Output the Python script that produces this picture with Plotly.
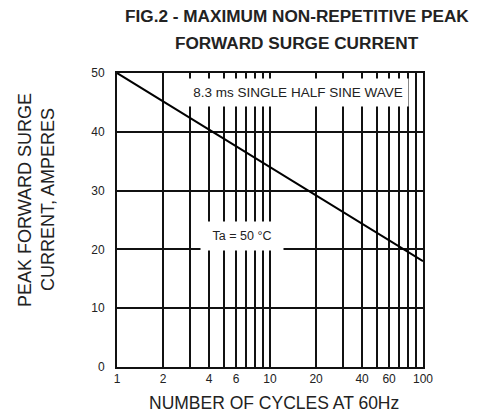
import plotly.graph_objects as go

# Data
cycles = [1, 10, 100]
current = [50, 34, 18]

x_tickvals = [1, 2, 3, 4, 5, 6, 7, 8, 9, 10, 20, 30, 40, 50, 60, 70, 80, 90, 100]
x_ticktext = ["1", "2", "", "4", "", "6", "", "", "", "10", "20", "", "40", "", "60", "", "", "", "100"]
y_tickvals = [0, 10, 20, 30, 40, 50]

title_line1 = "FIG.2 - MAXIMUM NON-REPETITIVE PEAK"
title_line2 = "FORWARD SURGE CURRENT"
ytitle_line1 = "PEAK FORWARD SURGE"
ytitle_line2 = "CURRENT, AMPERES"
xtitle = "NUMBER OF CYCLES AT 60Hz"
note_wave = "8.3 ms SINGLE HALF SINE WAVE"
note_temp = "Ta = 50 °C"

FONT = "Liberation Sans, Arial, sans-serif"
TXT = "#222222"

fig = go.Figure()
fig.add_trace(go.Scatter(x=cycles, y=current, mode="lines",
                         line=dict(color="black", width=2), showlegend=False,
                         hoverinfo="skip"))

fig.update_layout(
    width=493, height=419,
    margin=dict(l=117, r=70, t=73, b=52),
    paper_bgcolor="white", plot_bgcolor="white",
    font=dict(family=FONT, color=TXT),
    xaxis=dict(type="log", range=[0, 2], tickvals=x_tickvals, ticktext=x_ticktext,
               showgrid=True, gridcolor="#111", gridwidth=2, zeroline=False,
               showline=True, linecolor="#111", linewidth=2, mirror=True,
               ticks="", tickfont=dict(size=12, color=TXT)),
    yaxis=dict(range=[0, 50], tickvals=y_tickvals, showgrid=True,
               gridcolor="#111", gridwidth=2, zeroline=False,
               showline=True, linecolor="#111", linewidth=2, mirror=True,
               ticks="", ticklabelstandoff=8, tickfont=dict(size=12, color=TXT)),
)

ann = [
    dict(text="<b>" + title_line1 + "</b>", x=(297 - 117) / 306, y=(367 - 16) / 294, font=dict(size=17.2)),
    dict(text="<b>" + title_line2 + "</b>", x=(297 - 117) / 306, y=(367 - 43) / 294, font=dict(size=17.2)),
    dict(text=ytitle_line1, x=(25 - 117) / 306, y=(367 - 200) / 294, textangle=-90, font=dict(size=18)),
    dict(text=ytitle_line2, x=(48 - 117) / 306, y=(367 - 200) / 294, textangle=-90, font=dict(size=18)),
    dict(text=xtitle, x=(274 - 117) / 306, y=(367 - 403) / 294, font=dict(size=17.5)),
    dict(text=note_wave, x=(297.5 - 117) / 306, y=(367 - 93) / 294, font=dict(size=13.5),
         bgcolor="white", width=218, height=25, borderpad=1),
    dict(text=note_temp, x=(242 - 117) / 306, y=(367 - 236) / 294, font=dict(size=12.5),
         bgcolor="white", width=80, height=26, borderpad=1),
]
for a in ann:
    a.update(xref="paper", yref="paper", showarrow=False, xanchor="center", yanchor="middle")
    a["font"]["color"] = TXT
    a["font"]["family"] = FONT
fig.update_layout(annotations=ann)

# Remove the default 8px page margin so the figure sits at the window's corner
fig.write_html("out.html", config={"displayModeBar": False},
               post_script="document.body.style.margin='0';document.body.style.overflow='hidden';")
